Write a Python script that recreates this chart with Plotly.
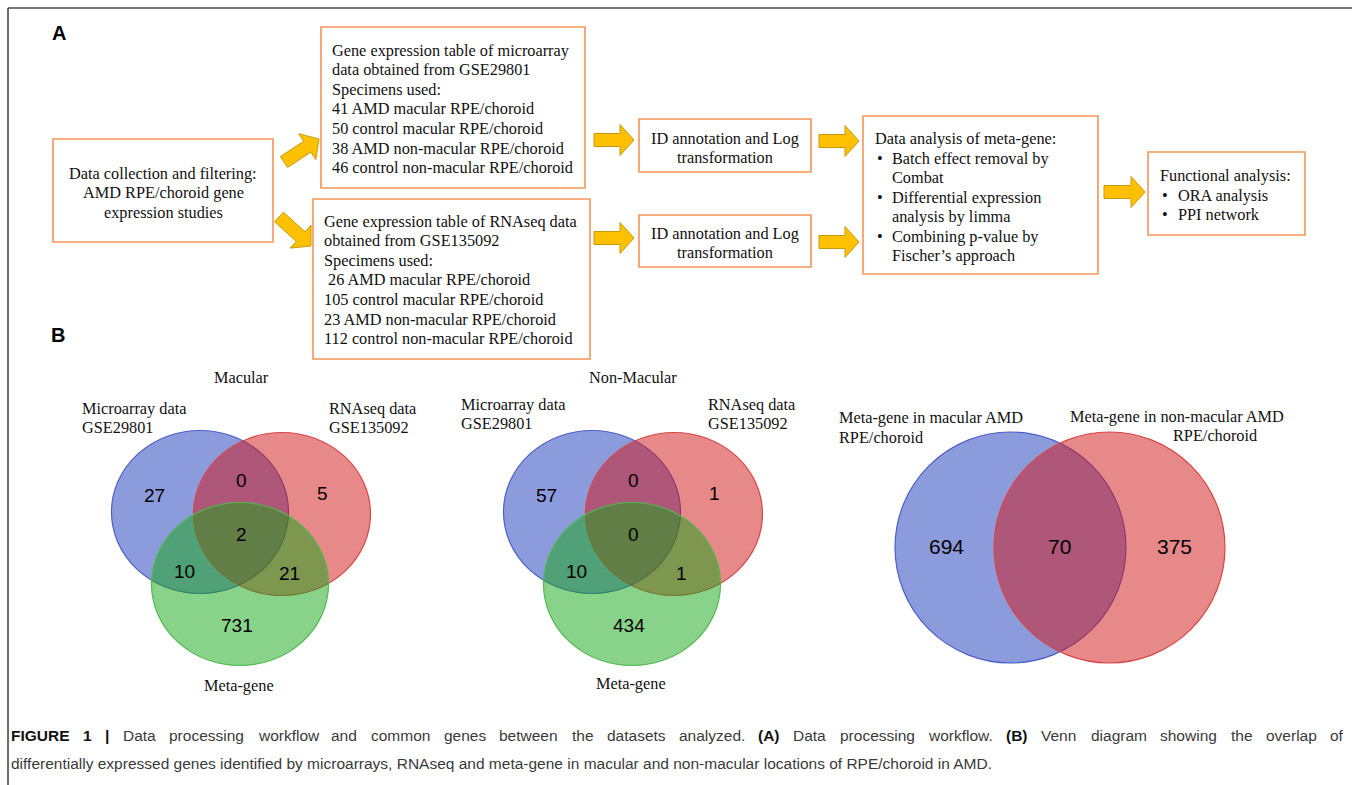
import math
import plotly.graph_objects as go

W, H = 1355, 785

# ---------------- data / text ----------------
collect_lines = ["Data collection and filtering:", "AMD RPE/choroid gene", "expression studies"]
micro_box_lines = ["Gene expression table of microarray", "data obtained from GSE29801", "Specimens used:",
                   "41 AMD macular RPE/choroid", "50 control macular RPE/choroid",
                   "38 AMD non-macular RPE/choroid", "46 control non-macular RPE/choroid"]
rnaseq_box_lines = ["Gene expression table of RNAseq data", "obtained from GSE135092", "Specimens used:",
                    "\u00a026 AMD macular RPE/choroid", "105 control macular RPE/choroid",
                    "23 AMD non-macular RPE/choroid", "112 control non-macular RPE/choroid"]
id_lines = ["ID annotation and Log", "transformation"]
meta_heading = "Data analysis of meta-gene:"
meta_items = [["Batch effect removal by", "Combat"],
              ["Differential expression", "analysis by limma"],
              ["Combining p-value by", "Fischer\u2019s approach"]]
func_heading = "Functional analysis:"
func_items = ["ORA analysis", "PPI network"]

venn3_titles = ["Macular", "Non-Macular"]
venn3_set_labels = [["Microarray data", "GSE29801"], ["RNAseq data", "GSE135092"], ["Meta-gene"]]
# regions: micro only, rnaseq only, micro&rnaseq, meta only, micro&meta, rnaseq&meta, all three
venn3_regions = ["A", "B", "AB", "C", "AC", "BC", "ABC"]
macular_counts = [27, 5, 0, 731, 10, 21, 2]
nonmacular_counts = [57, 1, 0, 434, 10, 1, 0]

venn2_labels = [["Meta-gene in macular AMD", "RPE/choroid"], ["Meta-gene in non-macular AMD", "RPE/choroid"]]
venn2_counts = [694, 375, 70]  # macular only, non-macular only, both

# caption line 1 is justified: (word, bold)
caption_line1_words = [("FIGURE", True), ("1", True), ("|", True)] + \
    [(w, False) for w in "Data processing workflow and common genes between the datasets analyzed.".split()] + \
    [("(A)", True)] + [(w, False) for w in "Data processing workflow.".split()] + \
    [("(B)", True)] + [(w, False) for w in "Venn diagram showing the overlap of".split()]
caption_line2 = ("differentially expressed genes identified by microarrays, RNAseq and meta-gene in macular "
                 "and non-macular locations of RPE/choroid in AMD.")

# ---------------- styles ----------------
SERIF = "Liberation Serif"
SANS = "Liberation Sans"
FS = 16.3
BOX_LINE = "#F29558"
ARROW_FILL = "#FFC000"
ARROW_LINE = "#C49A0C"
BLUE_F, BLUE_L = "rgba(25,55,185,0.5)", "rgb(75,95,200)"
RED_F, RED_L = "rgba(210,20,20,0.5)", "rgb(215,70,70)"
GREEN_F, GREEN_L = "rgba(20,165,20,0.5)", "rgb(80,185,80)"

# Arial / Liberation Sans advance widths (per 1000 em)
ARIAL = dict(zip("abcdefghijklmnopqrstuvwxyz",
                 [556, 556, 500, 556, 556, 278, 556, 556, 222, 222, 500, 222, 833, 556, 556, 556, 556, 333, 500,
                  278, 556, 500, 722, 500, 500, 500]))
ARIAL.update(dict(zip("ABCDEFGHIJKLMNOPQRSTUVWXYZ",
                      [667, 667, 722, 722, 667, 611, 778, 722, 278, 500, 667, 556, 833, 722, 778, 667, 778, 722,
                       667, 611, 722, 667, 944, 667, 667, 611])))
ARIAL.update({c: 556 for c in "0123456789"})
ARIAL.update({".": 278, ",": 278, "(": 333, ")": 333, "|": 260, "-": 333, "/": 278, ":": 278, " ": 278})
ARIAL_B = {"F": 611, "I": 278, "G": 778, "U": 722, "R": 722, "E": 667, "1": 556, "|": 280,
           "(": 333, ")": 333, "A": 722, "B": 722}


def text_width(word, bold, size):
    table = ARIAL_B if bold else ARIAL
    return sum(table.get(c, ARIAL.get(c, 556)) for c in word) * size / 1000.0


fig = go.Figure()
shapes = []
ann = []


def text(x, y, s, size=FS, font=SERIF, anchor="left", color="#111111"):
    ann.append(dict(x=x, y=y, xref="x", yref="y", text=s, showarrow=False, borderpad=0,
                    xanchor=anchor, yanchor="middle", font=dict(family=font, size=size, color=color)))


def box(x0, y0, x1, y1):
    shapes.append(dict(type="rect", xref="x", yref="y", x0=x0, y0=y0, x1=x1, y1=y1,
                       line=dict(color=BOX_LINE, width=1.6), fillcolor="rgba(0,0,0,0)"))


def arrow(x0, y0, x1, y1, bw=13, hw=31, hl=14):
    dx, dy = x1 - x0, y1 - y0
    L = math.hypot(dx, dy)
    ux, uy = dx / L, dy / L
    nx, ny = -uy, ux
    pts = [(0, -bw / 2), (L - hl, -bw / 2), (L - hl, -hw / 2), (L, 0),
           (L - hl, hw / 2), (L - hl, bw / 2), (0, bw / 2)]
    xy = [(x0 + ux * s + nx * t, y0 + uy * s + ny * t) for s, t in pts]
    path = "M " + " L ".join(f"{px:.1f},{py:.1f}" for px, py in xy) + " Z"
    shapes.append(dict(type="path", xref="x", yref="y", path=path,
                       fillcolor=ARROW_FILL, line=dict(color=ARROW_LINE, width=1)))


def ellipse(cx, cy, rx, ry, fill, line):
    shapes.append(dict(type="circle", xref="x", yref="y", x0=cx - rx, x1=cx + rx, y0=cy - ry, y1=cy + ry,
                       fillcolor=fill, line=dict(color=line, width=1.2)))


# ---------------- frame ----------------
shapes.append(dict(type="line", xref="x", yref="y", x0=8, y0=8, x1=1352, y1=8, line=dict(color="#4a4a4a", width=1.6)))
shapes.append(dict(type="line", xref="x", yref="y", x0=8, y0=8, x1=8, y1=785, line=dict(color="#4a4a4a", width=1.6)))

text(59, 33, "<b>A</b>", size=20, font=SANS, anchor="center", color="#000")
text(58, 335, "<b>B</b>", size=20, font=SANS, anchor="center", color="#000")

# ---------------- flowchart ----------------
LS = 19.6
box(53, 139, 273, 242)
for i, s in enumerate(collect_lines):
    text(163, 173 + i * LS, s, anchor="center")

box(321, 27, 585, 188)
for i, s in enumerate(micro_box_lines):
    text(331, 50 + i * LS, s)

box(313, 199, 590, 359)
for i, s in enumerate(rnaseq_box_lines):
    text(323, 221 + i * LS, s)

arrow(284, 162, 319, 139)
arrow(279, 217, 311, 246)

arrow(594, 140, 634, 140)
arrow(594, 238, 634, 238)
box(639, 119, 811, 172)
box(639, 215, 811, 267)
for i, s in enumerate(id_lines):
    text(725, 138 + i * LS, s, anchor="center")
    text(725, 233 + i * LS, s, anchor="center")

arrow(819, 141, 859, 141)
arrow(819, 242, 859, 242)
box(863, 116, 1098, 274)
text(874, 138, meta_heading)
y = 158
for item in meta_items:
    text(876, y, "\u2022")
    for s in item:
        text(891, y, s)
        y += LS * 0.995

arrow(1104, 192, 1145, 192)
box(1148, 152, 1305, 235)
text(1159, 175, func_heading)
for i, s in enumerate(func_items):
    text(1161, 195 + i * LS, "\u2022")
    text(1177, 195 + i * LS, s)

# ---------------- 3-set Venn diagrams ----------------
venn3_offsets = {"A": (-87, -42), "B": (81, -44), "AB": (0, -57), "C": (-4, 88),
                 "AC": (-57, 34), "BC": (48, 36), "ABC": (0, -3)}
venn3_layouts = [
    dict(cx=241, title_y=377, lab_a=(81, 408), lab_b=(328, 408), lab_c=(239, 685)),
    dict(cx=633, title_y=377, lab_a=(460, 404), lab_b=(707, 404), lab_c=(631, 683)),
]
for title, counts, lay in zip(venn3_titles, [macular_counts, nonmacular_counts], venn3_layouts):
    cx = lay["cx"]
    ellipse(cx - 41, 512, 88.5, 81.5, BLUE_F, BLUE_L)
    ellipse(cx + 41, 514, 88.5, 81.5, RED_F, RED_L)
    ellipse(cx - 1, 584, 88.5, 81.5, GREEN_F, GREEN_L)
    text(cx, lay["title_y"], title, anchor="center")
    for j, s in enumerate(venn3_set_labels[0]):
        text(lay["lab_a"][0], lay["lab_a"][1] + j * 19, s)
    for j, s in enumerate(venn3_set_labels[1]):
        text(lay["lab_b"][0], lay["lab_b"][1] + j * 19, s)
    text(lay["lab_c"][0], lay["lab_c"][1], venn3_set_labels[2][0], anchor="center")
    for reg, val in zip(venn3_regions, counts):
        ox, oy = venn3_offsets[reg]
        text(cx + ox, 537 + oy, str(val), size=19, font=SANS, anchor="center", color="#000")

# ---------------- 2-set Venn diagram ----------------
ellipse(1010.5, 547.5, 115.5, 115.5, BLUE_F, BLUE_L)
ellipse(1109.5, 547.5, 115.5, 115.5, RED_F, RED_L)
text(838, 417, venn2_labels[0][0])
text(838, 437, venn2_labels[0][1])
text(1069, 416, venn2_labels[1][0])
text(1172, 435, venn2_labels[1][1])
for x, val in zip([946, 1174, 1059], venn2_counts):
    text(x, 546, str(val), size=21, font=SANS, anchor="center", color="#000")

# ---------------- caption ----------------
CAP_FS = 15.5
CAP_X0, CAP_X1 = 10, 1342
widths = [text_width(w, b, CAP_FS) for w, b in caption_line1_words]
gap = (CAP_X1 - CAP_X0 - sum(widths)) / (len(widths) - 1)
x = CAP_X0
for (w, b), wd in zip(caption_line1_words, widths):
    if b:
        text(x, 735, f"<b>{w}</b>", size=CAP_FS, font=SANS, color="#111111")
    else:
        text(x, 735, w, size=CAP_FS, font=SANS, color="#3a3a3a")
    x += wd + gap
text(CAP_X0, 763, caption_line2, size=CAP_FS, font=SANS, color="#3a3a3a")

fig.update_layout(
    width=W, height=H, margin=dict(l=0, r=0, t=0, b=0),
    paper_bgcolor="white", plot_bgcolor="white", showlegend=False,
    xaxis=dict(range=[0, W], visible=False, fixedrange=True),
    yaxis=dict(range=[H, 0], visible=False, fixedrange=True),
    shapes=shapes, annotations=ann,
)
fig.write_html("out.html", config={"displayModeBar": False})
